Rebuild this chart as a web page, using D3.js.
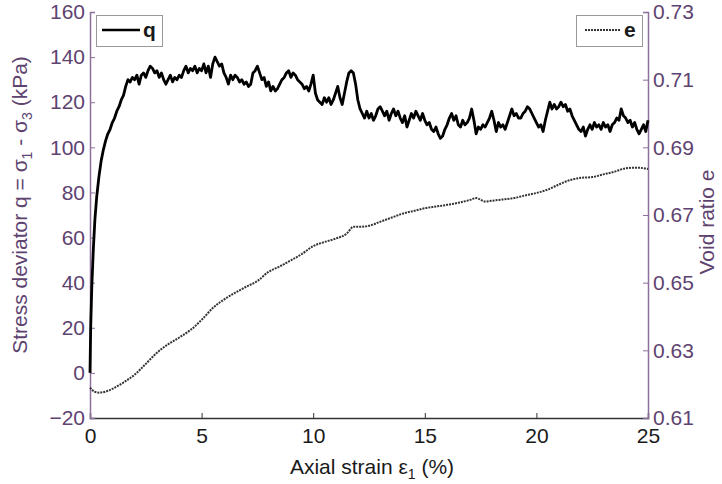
<!DOCTYPE html>
<html><head><meta charset="utf-8">
<script src="https://cdn.jsdelivr.net/npm/d3@7/dist/d3.min.js"></script>
<style>body{margin:0;background:#fff}svg{display:block;font-family:"Liberation Sans",Arial,sans-serif}</style>
</head><body><svg id="c" width="722" height="484"></svg>
<script>
const qStrain = [0,0.03,0.08,0.15,0.22,0.3,0.4,0.5,0.6,0.7,0.8,0.9,1.0,1.1,1.2,1.3,1.4,1.5,1.6,1.7,1.8,1.9,2.0,2.1,2.2,2.3,2.4,2.5,2.6,2.7,2.8,2.9,3.0,3.1,3.2,3.3,3.4,3.5,3.6,3.7,3.8,3.9,4.0,4.1,4.2,4.3,4.4,4.5,4.6,4.7,4.8,4.9,5.0,5.1,5.2,5.3,5.4,5.5,5.6,5.7,5.8,5.9,6.0,6.1,6.2,6.3,6.4,6.5,6.6,6.7,6.8,6.9,7.0,7.1,7.2,7.3,7.4,7.5,7.6,7.7,7.8,7.9,8.0,8.1,8.2,8.3,8.4,8.5,8.6,8.7,8.8,8.9,9.0,9.1,9.2,9.3,9.4,9.5,9.6,9.7,9.8,9.9,10.0,10.1,10.2,10.3,10.4,10.5,10.6,10.7,10.8,10.9,11.0,11.1,11.2,11.3,11.4,11.5,11.6,11.7,11.8,11.9,12.0,12.1,12.2,12.3,12.4,12.5,12.6,12.7,12.8,12.9,13.0,13.1,13.2,13.3,13.4,13.5,13.6,13.7,13.8,13.9,14.0,14.1,14.2,14.3,14.4,14.5,14.6,14.7,14.8,14.9,15.0,15.1,15.2,15.3,15.4,15.5,15.6,15.7,15.8,15.9,16.0,16.1,16.2,16.3,16.4,16.5,16.6,16.7,16.8,16.9,17.0,17.1,17.2,17.3,17.4,17.5,17.6,17.7,17.8,17.9,18.0,18.1,18.2,18.3,18.4,18.5,18.6,18.7,18.8,18.9,19.0,19.1,19.2,19.3,19.4,19.5,19.6,19.7,19.8,19.9,20.0,20.1,20.2,20.3,20.4,20.5,20.6,20.7,20.8,20.9,21.0,21.1,21.2,21.3,21.4,21.5,21.6,21.7,21.8,21.9,22.0,22.1,22.2,22.3,22.4,22.5,22.6,22.7,22.8,22.9,23.0,23.1,23.2,23.3,23.4,23.5,23.6,23.7,23.8,23.9,24.0,24.1,24.2,24.3,24.4,24.5,24.6,24.7,24.8,24.9,25.0];
const qStress = [0,20,38,55,68,78,87,94,99,103,106,108,111,113,116,118,121,123,127,130,129,131,130,132,128,132,133,131,134,136,135,133,134,131,133,130,128,130,132,129,131,130,132,131,134,136,133,135,134,136,133,135,134,137,133,136,131,137,140,138,136,137,133,131,128,132,130,132,131,129,130,128,129,127,128,133,134,136,133,130,131,127,129,125,127,125,126,128,130,131,133,134,131,133,132,130,129,128,126,127,125,128,132,124,121,120,119,122,120,122,119,121,124,127,122,119,124,129,133,134,133,128,121,117,115,113,116,113,115,112,114,117,118,116,114,116,112,115,117,114,116,113,111,114,109,112,115,113,116,114,112,115,112,110,111,108,107,109,106,104,105,108,110,113,115,112,114,110,109,112,110,111,113,117,112,106,109,108,110,109,111,113,116,112,107,111,109,110,108,111,114,117,114,115,113,113,115,116,118,117,115,113,111,109,110,107,112,116,120,117,119,117,118,120,118,119,116,117,114,112,110,108,107,109,105,108,110,108,111,109,110,108,111,109,110,107,110,111,113,112,117,114,113,111,112,109,111,108,106,108,110,107,112];
const eStrain = [0,0.2,0.4,0.7,1.0,1.5,2.0,2.5,3.0,3.5,4.0,4.5,5.0,5.5,6.0,6.5,7.0,7.5,8.0,8.5,9.0,9.5,10.0,10.5,11.0,11.5,11.8,12.0,12.5,13.0,13.5,14.0,14.5,15.0,15.5,16.0,16.5,17.0,17.3,17.7,18.0,18.5,19.0,19.5,20.0,20.5,21.0,21.5,22.0,22.5,23.0,23.5,24.0,24.5,25.0];
const eVoid = [0.6190,0.6178,0.6175,0.6178,0.6186,0.6205,0.6228,0.6260,0.6293,0.6318,0.6338,0.6360,0.6390,0.6425,0.6450,0.6470,0.6488,0.6505,0.6532,0.6548,0.6566,0.6585,0.6608,0.6620,0.6630,0.6645,0.6665,0.6665,0.6668,0.6680,0.6692,0.6704,0.6712,0.6720,0.6725,0.6730,0.6736,0.6744,0.6750,0.6740,0.6742,0.6746,0.6750,0.6758,0.6765,0.6775,0.6790,0.6803,0.6810,0.6812,0.6820,0.6828,0.6838,0.6840,0.6836];
const xTicks = [0,5,10,15,20,25];
const qTicks = [-20,0,20,40,60,80,100,120,140,160];
const eTicks = [0.61,0.63,0.65,0.67,0.69,0.71,0.73];

const svg = d3.select("#c");
const L=90,R=648,T=12,B=418;
const x = d3.scaleLinear().domain([0,25]).range([L,R]);
const yq = d3.scaleLinear().domain([-20,160]).range([B,T]);
const ye = d3.scaleLinear().domain([0.61,0.73]).range([B,T]);
const purple="#5e4370", axPurple="#8c6f9c";

// axes
const gx = svg.append("g").attr("transform",`translate(0,${B})`)
  .call(d3.axisBottom(x).tickValues(xTicks).tickSize(-5).tickPadding(10).tickFormat(d3.format("d")));
gx.select(".domain").attr("stroke","#333").attr("stroke-width",1.5);
gx.selectAll(".tick line").attr("stroke","#333");
gx.selectAll("text").attr("fill","#1a1a1a").attr("font-size",21);

const gl = svg.append("g").attr("transform",`translate(${L},0)`)
  .call(d3.axisLeft(yq).tickValues(qTicks).tickSize(-5).tickPadding(5).tickFormat(d3.format("d")));
gl.select(".domain").attr("stroke",axPurple).attr("stroke-width",1.5);
gl.selectAll(".tick line").attr("stroke",axPurple);
gl.selectAll("text").attr("fill",purple).attr("font-size",21);

const gr = svg.append("g").attr("transform",`translate(${R},0)`)
  .call(d3.axisRight(ye).tickValues(eTicks).tickSize(-5).tickPadding(5).tickFormat(d3.format(".2f")));
gr.select(".domain").attr("stroke",axPurple).attr("stroke-width",1.5);
gr.selectAll(".tick line").attr("stroke",axPurple);
gr.selectAll("text").attr("fill",purple).attr("font-size",21);

// lines
const qData = qStrain.map((s,i)=>[s,qStress[i]]);
const eData = eStrain.map((s,i)=>[s,eVoid[i]]);
svg.append("path").datum(eData).attr("fill","none").attr("stroke","#333").attr("stroke-width",2)
  .attr("stroke-dasharray","2,1")
  .attr("d",d3.line().x(d=>x(d[0])).y(d=>ye(d[1])).curve(d3.curveMonotoneX));
svg.append("path").datum(qData).attr("fill","none").attr("stroke","#000").attr("stroke-width",2.8)
  .attr("stroke-linejoin","round")
  .attr("d",d3.line().x(d=>x(d[0])).y(d=>yq(d[1])));

// legends
const lg1 = svg.append("g");
lg1.append("rect").attr("x",96.5).attr("y",15.5).attr("width",66).attr("height",31).attr("fill","#fff").attr("stroke","#999");
lg1.append("line").attr("x1",102).attr("x2",140).attr("y1",30).attr("y2",30).attr("stroke","#000").attr("stroke-width",2.6);
lg1.append("text").attr("x",143).attr("y",37).attr("font-size",21).attr("font-weight","bold").attr("fill","#1a1a1a").text("q");
const lg2 = svg.append("g");
lg2.append("rect").attr("x",576.5).attr("y",15.5).attr("width",66).attr("height",31).attr("fill","#fff").attr("stroke","#999");
lg2.append("line").attr("x1",585).attr("x2",621).attr("y1",30).attr("y2",30).attr("stroke","#333").attr("stroke-width",2).attr("stroke-dasharray","2,1");
lg2.append("text").attr("x",624).attr("y",37).attr("font-size",21).attr("font-weight","bold").attr("fill","#1a1a1a").text("e");

// titles
const yt = svg.append("text").attr("transform","translate(27,205) rotate(-90)").attr("text-anchor","middle")
  .attr("font-size",21).attr("fill",purple);
yt.append("tspan").text("Stress deviator q = σ");
yt.append("tspan").attr("font-size",14).attr("dy",5).text("1");
yt.append("tspan").attr("dy",-5).text(" - σ");
yt.append("tspan").attr("font-size",14).attr("dy",5).text("3");
yt.append("tspan").attr("dy",-5).text(" (kPa)");

const xt = svg.append("text").attr("x",372).attr("y",474).attr("text-anchor","middle").attr("font-size",21).attr("fill","#1a1a1a");
xt.append("tspan").text("Axial strain ε");
xt.append("tspan").attr("font-size",14).attr("dy",5).text("1");
xt.append("tspan").attr("dy",-5).text(" (%)");

svg.append("text").attr("transform","translate(714,222) rotate(-90)").attr("text-anchor","middle")
  .attr("font-size",21).attr("fill",purple).text("Void ratio e");
</script></body></html>
